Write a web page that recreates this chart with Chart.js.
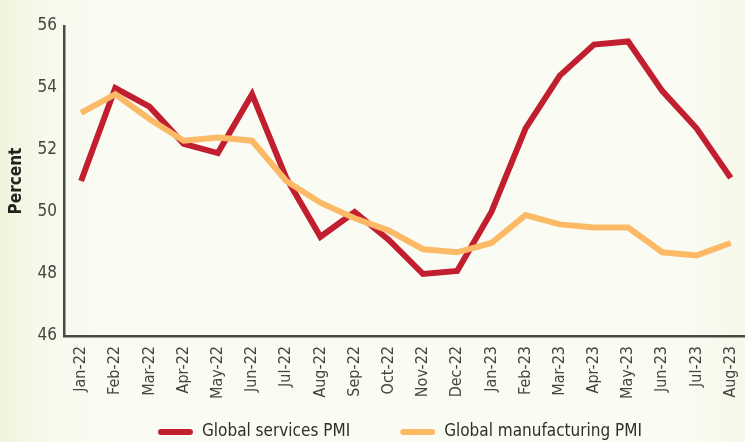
<!DOCTYPE html>
<html>
<head>
<meta charset="utf-8">
<script src="https://cdn.jsdelivr.net/npm/chart.js@4.4.0/dist/chart.umd.min.js"></script>
<style>
  html, body { margin: 0; padding: 0; }
  body {
    width: 745px; height: 442px; overflow: hidden;
    background: linear-gradient(to right, #f2f3dc 0px, #f8f9ec 45px, #fafbf2 110px, #fafbf2 680px, #f7f8ea 745px);
  }
  #wrap { width: 745px; height: 442px; overflow: hidden; position: relative; }
  canvas { display: block; }
</style>
</head>
<body>
<div id="wrap"><canvas id="c" width="760" height="442"></canvas></div>
<script>
const categories = ["Jan-22","Feb-22","Mar-22","Apr-22","May-22","Jun-22","Jul-22","Aug-22","Sep-22","Oct-22","Nov-22","Dec-22","Jan-23","Feb-23","Mar-23","Apr-23","May-23","Jun-23","Jul-23","Aug-23"];
const servicesPMI = [51.0, 54.0, 53.4, 52.2, 51.9, 53.8, 51.1, 49.2, 50.0, 49.1, 48.0, 48.1, 50.0, 52.7, 54.4, 55.4, 55.5, 53.9, 52.7, 51.1];
const manufacturingPMI = [53.2, 53.8, 53.0, 52.3, 52.4, 52.3, 51.0, 50.3, 49.8, 49.4, 48.8, 48.7, 49.0, 49.9, 49.6, 49.5, 49.5, 48.7, 48.6, 49.0];
const yTicks = [46, 48, 50, 52, 54, 56];
const yTitle = "Percent";

const FONT = "'Liberation Sans Narrow', 'DejaVu Sans Condensed', 'Arial Narrow', sans-serif";

const legendPlugin = {
  id: 'customLegend',
  afterDraw(chart) {
    const ctx = chart.ctx;
    const items = chart.data.datasets;
    const boxW = 35, gap = 9, spacing = 50;
    ctx.save();
    ctx.font = "17px " + FONT;
    const widths = items.map(d => boxW + gap + ctx.measureText(d.label).width);
    const total = widths.reduce((a, b) => a + b, 0) + spacing * (items.length - 1);
    let x = 400 - total / 2;
    const y = 432;
    items.forEach((d, i) => {
      ctx.strokeStyle = d.borderColor;
      ctx.lineWidth = 6;
      ctx.lineCap = 'round';
      ctx.beginPath();
      ctx.moveTo(x + 3, y);
      ctx.lineTo(x + boxW - 3, y);
      ctx.stroke();
      ctx.fillStyle = '#2f2f2c';
      ctx.textBaseline = 'middle';
      ctx.textAlign = 'left';
      ctx.fillText(d.label, x + boxW + gap, y);
      x += widths[i] + spacing;
    });
    ctx.restore();
  }
};

new Chart(document.getElementById('c'), {
  type: 'line',
  data: {
    labels: categories,
    datasets: [
      {
        label: 'Global services PMI',
        data: servicesPMI,
        borderColor: '#c11f2f',
        backgroundColor: '#c11f2f',
        borderWidth: 6,
        pointRadius: 0,
        tension: 0,
        order: 1
      },
      {
        label: 'Global manufacturing PMI',
        data: manufacturingPMI,
        borderColor: '#fdba66',
        backgroundColor: '#fdba66',
        borderWidth: 6,
        pointRadius: 0,
        tension: 0,
        order: 0
      }
    ]
  },
  options: {
    responsive: false,
    animation: false,
    devicePixelRatio: 1,
    layout: { padding: { top: 26, right: 3, left: 0, bottom: 0 } },
    plugins: {
      legend: { display: false },
      tooltip: { enabled: false }
    },
    scales: {
      x: {
        offset: true,
        grid: { display: false, drawTicks: false },
        border: { display: true, color: '#4a4a45', width: 2.5 },
        ticks: {
          autoSkip: false,
          minRotation: 90,
          maxRotation: 90,
          padding: 10,
          color: '#444440',
          font: { family: FONT, size: 16 }
        },
        afterFit(scale) { scale.height = 106; }
      },
      y: {
        min: 46,
        max: 56,
        grid: { display: false, drawTicks: false },
        border: { display: true, color: '#4a4a45', width: 2.5 },
        afterBuildTicks(scale) { scale.ticks = yTicks.map(v => ({ value: v })); },
        ticks: {
          padding: 7,
          color: '#444440',
          font: { family: FONT, size: 17 }
        },
        title: {
          display: true,
          text: yTitle,
          color: '#222220',
          padding: { top: 6, bottom: 0 },
          font: { family: FONT, size: 17, weight: 'bold' }
        },
        afterFit(scale) { scale.width = 64; }
      }
    }
  },
  plugins: [legendPlugin]
});
</script>
</body>
</html>
